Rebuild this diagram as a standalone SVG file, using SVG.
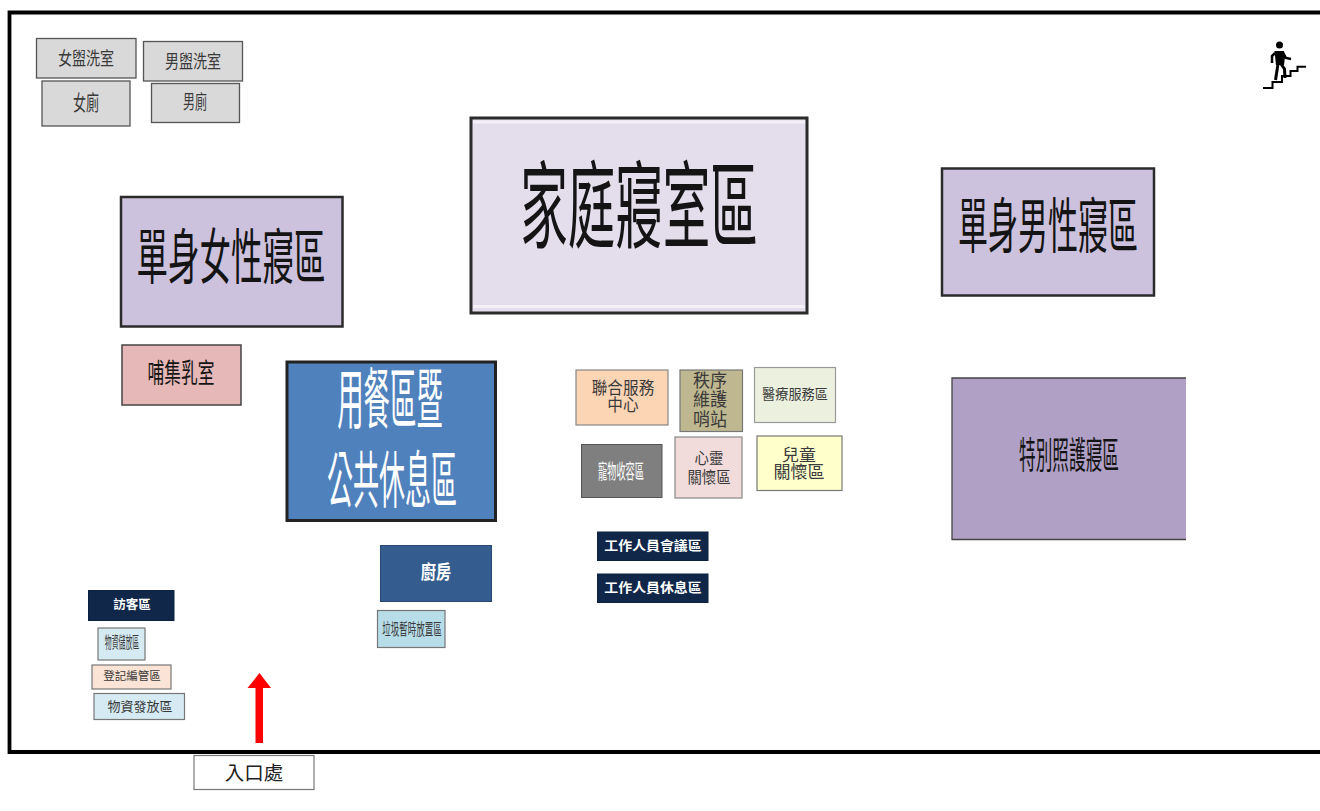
<svg xmlns="http://www.w3.org/2000/svg" width="1320" height="811" viewBox="0 0 1320 811">
<style>
text{font-family:"Liberation Sans","Noto Sans CJK TC",sans-serif;text-anchor:middle;dominant-baseline:central;fill:#3a3a3a}
.k{fill:#141414}
.w{fill:#fff}
.b{font-weight:700}
.s{font-family:"Liberation Serif","Noto Sans CJK TC",serif;fill:#222}
.g{fill:#d9d9d9;stroke:#555;stroke-width:1.3}
.n{fill:#10274a;stroke:#0d2240;stroke-width:1}
.lb{fill:#d5eaf3;stroke:#777;stroke-width:1.2}
.st{fill:none;stroke:#000}
</style>
<rect width="1320" height="811" fill="#fff"/>
<path d="M1320 12.500H9.500V752H1320" fill="none" stroke="#000" stroke-width="3.800"/>
<g id="n-f-wash"><rect class="g" x="36.500" y="38.500" width="99.500" height="39.500"/><text transform="translate(86 58) scale(.78 1)" font-size="18">女盥洗室</text></g>
<g id="n-m-wash"><rect class="g" x="143.500" y="41.500" width="99" height="39.500"/><text transform="translate(193 61) scale(.78 1)" font-size="18">男盥洗室</text></g>
<g id="n-f-wc"><rect class="g" x="42" y="81" width="88" height="45"/><text transform="translate(86 103) scale(.62 1)" font-size="21">女廁</text></g>
<g id="n-m-wc"><rect class="g" x="151.500" y="83.500" width="88" height="39"/><text transform="translate(195 102) scale(.63 1)" font-size="19">男廁</text></g>
<g id="n-single-f"><rect x="121" y="197" width="221.500" height="129.500" fill="#cdc2dd" stroke="#2b2b2b" stroke-width="2.500"/><text class="k" transform="translate(231 258) scale(.525 1)" font-size="60">單身女性寢區</text></g>
<g id="n-family"><rect x="471" y="118" width="336" height="195" fill="#e4deec" stroke="#2b2b2b" stroke-width="3"/><path d="M473 306.500H805M473 122H805" fill="none" stroke="#f3f0f6" stroke-width="3"/><text class="k" transform="translate(639 208) scale(.5 1)" font-size="95">家庭寢室區</text></g>
<g id="n-single-m"><rect x="942" y="168.500" width="212" height="127" fill="#cdc2dd" stroke="#2b2b2b" stroke-width="2.500"/><text class="k" transform="translate(1048 227) scale(.5 1)" font-size="60">單身男性寢區</text></g>
<g id="n-nursing"><rect x="122" y="345" width="119" height="60" fill="#e6b8b7" stroke="#444" stroke-width="1.500"/><text class="k" transform="translate(181 374) scale(.62 1)" font-size="27">哺集乳室</text></g>
<g id="n-dining"><rect x="287" y="362" width="208.500" height="158.500" fill="#4f81bd" stroke="#222" stroke-width="3"/><text class="w" transform="translate(390 401) scale(.4 1)" font-size="66">用餐區暨</text><text class="w" transform="translate(392 481) scale(.42 1)" font-size="62">公共休息區</text></g>
<g id="n-kitchen"><rect x="380.500" y="545.500" width="111" height="56" fill="#355c8e" stroke="#2a4a75"/><text class="w b" transform="translate(436 572) scale(.8 1)" font-size="19">廚房</text></g>
<g id="n-trash"><rect class="lb" x="377.500" y="610.500" width="67.500" height="37" style="fill:#b7dde8"/><text transform="translate(412 629) scale(.53 1)" font-size="16">垃圾暫時放置區</text></g>
<g id="n-service"><rect x="576" y="370" width="92" height="55" fill="#fcd5b5" stroke="#888" stroke-width="1.200"/><text transform="translate(623 388) scale(.92 1)" font-size="17">聯合服務</text><text transform="translate(623 405) scale(.92 1)" font-size="17">中心</text></g>
<g id="n-security"><rect x="680" y="370" width="62.500" height="61.500" fill="#bfb78f" stroke="#777" stroke-width="1.200"/><text transform="translate(710 381) scale(.95 1)" font-size="18">秩序</text><text transform="translate(710 400) scale(.95 1)" font-size="18">維護</text><text transform="translate(710 420) scale(.95 1)" font-size="18">哨站</text></g>
<g id="n-medical"><rect x="754.500" y="367.500" width="81" height="55" fill="#ebf1de" stroke="#999" stroke-width="1.200"/><text transform="translate(795 394) scale(.94 1)" font-size="14">醫療服務區</text></g>
<g id="n-pet"><rect x="581.500" y="444.500" width="80.500" height="53" fill="#7f7f7f" stroke="#555"/><text class="w" transform="translate(621 472) scale(.46 1)" font-size="20">寵物收容區</text></g>
<g id="n-spirit"><rect x="675" y="437" width="67" height="61" fill="#f2dcdb" stroke="#888" stroke-width="1.200"/><text transform="translate(709 458) scale(.9 1)" font-size="16">心靈</text><text transform="translate(709 477) scale(.9 1)" font-size="16">關懷區</text></g>
<g id="n-child"><rect x="757" y="436" width="85" height="54.500" fill="#ffffcc" stroke="#777" stroke-width="1.200"/><text x="799" y="455" font-size="17">兒童</text><text x="799" y="472" font-size="17">關懷區</text></g>
<g id="n-staff-meet"><rect class="n" x="597.500" y="532" width="110.500" height="28.500"/><text class="w b" transform="translate(653 546) scale(1.07 1)" font-size="13">工作人員會議區</text></g>
<g id="n-staff-rest"><rect class="n" x="597.500" y="574" width="110.500" height="28.500"/><text class="w b" transform="translate(653 588) scale(1.07 1)" font-size="13">工作人員休息區</text></g>
<g id="n-special"><path d="M1186 378H952V539.500H1186" fill="#b0a0c6" stroke="#444" stroke-width="1.300"/><text class="k" transform="translate(1069 456) scale(.45 1)" font-size="37">特別照護寢區</text></g>
<g id="n-visitor"><rect class="n" x="88.500" y="590.500" width="85.500" height="30"/><text class="w b" transform="translate(132 605)" font-size="12.500">訪客區</text></g>
<g id="n-store"><rect class="lb" x="98" y="628" width="47" height="32"/><text transform="translate(122 643) scale(.43 1)" font-size="16">物資儲放區</text></g>
<g id="n-register"><rect x="92" y="665" width="79" height="24" fill="#fbe4d5" stroke="#777" stroke-width="1.200"/><text transform="translate(132 676)" font-size="11.500">登記編管區</text></g>
<g id="n-dist"><rect class="lb" x="94" y="693.500" width="90.500" height="26"/><text transform="translate(140 706)" font-size="13">物資發放區</text></g>
<g id="n-entry"><rect x="194" y="755.500" width="120" height="34" fill="#fff" stroke="#777" stroke-width="1.200"/><text class="s" x="254" y="773" font-size="19.500">入口處</text></g>
<g id="connectors"><path d="M255.500 743V688H247.500L259.500 673L271 688H263V743Z" fill="#ff0000"/></g>
<g id="stairs-icon"><circle cx="1279.500" cy="45" r="3.500" fill="#000"/><path d="M1274.500 51H1284L1285 57L1284 65H1276Z" fill="#000"/><path class="st" stroke-width="2.500" d="M1275 53L1272 56V63M1283 53L1286 58L1291 59"/><path class="st" stroke-width="3" d="M1278 64L1275.500 80M1281 64L1284.500 69L1285 78"/><path class="st" stroke-width="2" d="M1263 88H1272.500V82H1282V76H1290.500V71H1297.500V66.700H1306"/></g>
</svg>
